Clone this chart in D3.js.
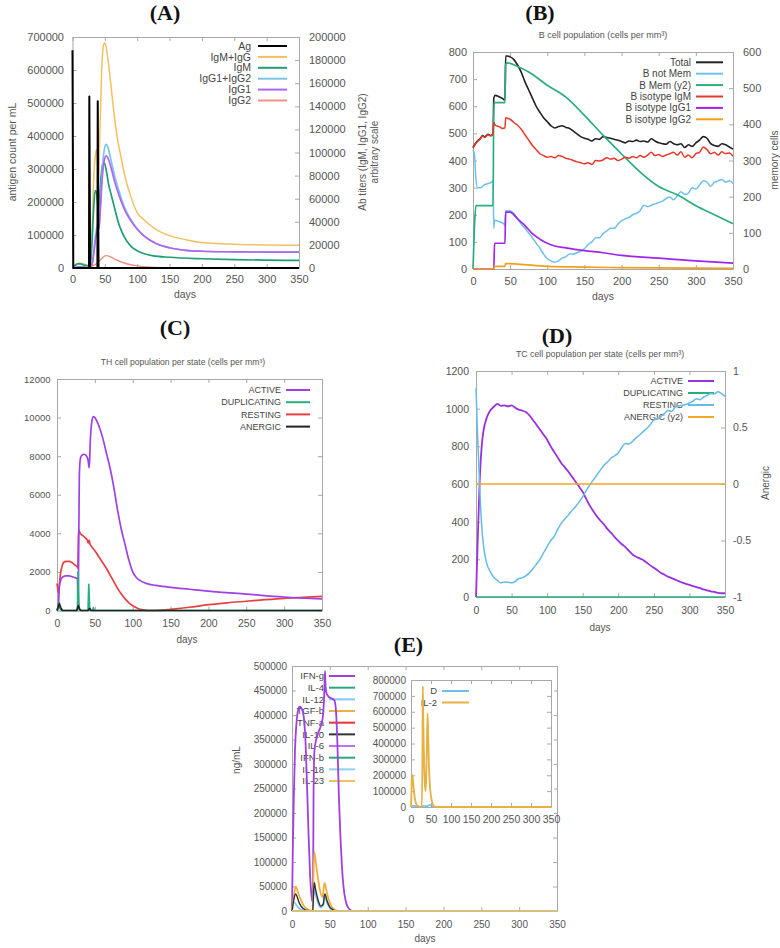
<!DOCTYPE html>
<html><head><meta charset="utf-8">
<script src="https://cdn.jsdelivr.net/npm/d3@7"></script>
<style>
body{margin:0;background:#fff;}
svg{display:block;}
</style></head><body>
<svg id="chart" width="780" height="948"></svg>
<script>
// ---------- shared ticks ----------
const dayTicks = [0,50,100,150,200,250,300,350];

// ---------- Panel A ----------
const aLeftTicks = [0,100000,200000,300000,400000,500000,600000,700000];
const aRightTicks = [0,20000,40000,60000,80000,100000,120000,140000,160000,180000,200000];
const aLabels = ["Ag","IgM+IgG","IgM","IgG1+IgG2","IgG1","IgG2"];
const aColors = ["#000000","#f2c063","#1f9e73","#7cc4ee","#b065f0","#f29080"];
const aAgDays = [0,1.2,25.5,26,27.2,38.5,39,40.2,350];
const aAgVals = [660000,0,0,520000,0,0,505000,0,0];
const aIgMIgGDays = [0,5,10,15,20,25,27,30,33,36,37.5,39,40.5,42,45,48,50,53,56,60,65,70,75,80,90,100,110,120,130,150,175,200,250,300,350];
const aIgMIgGVals = [0,2000,4300,4000,3000,1500,1000,30000,80000,100000,102500,90000,75000,110000,170000,193000,195000,188000,175000,155000,130000,110000,96000,82000,62000,48000,42000,37000,33000,28000,24500,22000,20500,19900,19600];
const aIgMDays = [0,3,8,12,18,25,27,30,33,35,37,39,41,43,46,48,50,53,56,60,65,70,75,80,90,100,110,125,150,200,250,300,350];
const aIgMVals = [0,2000,3500,3500,2500,1500,800,20000,55000,67000,66000,55000,50000,70000,88000,92000,90000,82000,72000,63000,52000,41000,33000,27000,19000,15000,12500,10500,9300,8000,7200,6800,6600];
const aIgGDays = [0,5,10,15,20,25,27,30,33,36,39,41,43,46,49,52,55,60,65,70,75,80,90,100,110,120,130,150,175,200,250,300,350];
const aIgG12Vals = [0,500,1200,1000,700,400,300,3000,15000,30000,37000,38000,55000,85000,102000,107000,104000,92000,80000,70000,61000,53000,42000,34000,28000,24000,21000,17500,15300,14500,14000,13800,13700];
const aIgG1Vals = [0,500,1000,800,600,300,200,2500,13000,27000,33000,35000,50000,78000,93000,97000,95000,86000,75000,66000,58000,51000,41000,33500,28000,24000,21000,17500,15300,14500,14000,13800,13700];
const aIgG2Days = [0,10,27,30,35,40,45,50,53,56,60,70,80,90,100,120,150,350];
const aIgG2Vals = [0,300,200,1500,3000,5000,8000,10500,10700,10300,9200,6500,4300,2800,1800,700,200,0];

// ---------- Panel B ----------
const bLeftTicks = [0,100,200,300,400,500,600,700,800];
const bRightTicks = [0,100,200,300,400,500,600];
const bLabels = ["Total","B not Mem","B Mem (y2)","B isotype IgM","B isotype IgG1","B isotype IgG2"];
const bColors = ["#222222","#6ec1ee","#2aae7e","#e8382a","#a024ee","#f0a020"];
const bDays = [0,3,6,10,13,16,20,24,27,28,30,35,40,43,44,46,50,
 55,60,65,70,75,80,85,90,95,100,105,110,115,120,125,130,135,140,145,150,
 155,160,165,170,175,180,185,190,195,200,205,210,215,220,225,230,235,240,245,250,
 255,260,265,270,275,280,285,290,295,300,305,310,315,320,325,330,335,340,345,350];
const bTotalVals = [448,462,472,482,492,487,497,492,502,630,640,635,628,622,785,785,782,
 772,752,725,690,660,630,600,578,558,543,528,520,525,528,522,518,508,498,488,482,
 478,472,480,478,488,485,482,478,475,470,465,472,470,475,470,472,468,480,472,465,
 462,460,470,462,458,462,448,458,452,465,475,488,482,462,455,452,462,458,450,442];
const bIgMVals = [445,460,470,480,490,485,495,490,500,540,530,525,518,520,558,556,552,
 540,530,515,495,475,455,440,425,418,412,415,410,418,415,408,405,400,395,392,388,
 392,385,400,398,402,410,405,408,400,405,412,408,415,410,418,412,420,430,418,422,
 415,420,425,430,420,432,412,420,410,425,430,450,440,425,430,420,432,425,428,415];
const bNotMemDays = [0,2,4,6,10,15,20,25,27,28,29,35,42,43,44,50,
 55,60,65,70,75,80,85,90,95,100,105,110,115,120,125,130,135,140,145,150,
 155,160,165,170,175,180,185,190,195,200,205,210,215,220,225,230,235,240,245,250,
 255,260,265,270,275,280,285,290,295,300,305,310,315,320,325,330,335,340,345,350];
const bNotMemVals = [440,420,330,300,300,310,315,320,325,150,180,175,165,160,215,215,
 205,185,165,150,132,115,95,77,55,38,30,25,30,40,45,55,55,60,65,75,
 90,100,115,115,130,140,150,150,165,178,185,190,200,205,215,235,230,235,240,245,
 250,260,265,255,270,285,275,280,300,295,310,325,320,305,320,325,330,320,325,315];
const bMemDays = [0,2,4,27,28,43,44,46,60,75,100,125,150,175,200,225,250,275,300,325,350];
const bMemVals = [0,120,175,175,460,460,565,570,560,545,508,475,425,370,318,268,228,205,175,150,125];
const bIgG1Days = [0,28,29,43,44,50,55,60,70,80,90,100,110,125,150,175,200,250,300,350];
const bIgG1Vals = [0,0,95,95,210,210,200,185,160,130,110,95,85,78,68,60,50,40,30,22];
const bIgG2Days = [0,28,29,43,44,60,100,150,200,350];
const bIgG2Vals = [0,0,10,10,20,18,10,7,5,2];

// ---------- Panel C ----------
const cTicks = [0,2000,4000,6000,8000,10000,12000];
const cLabels = ["ACTIVE","DUPLICATING","RESTING","ANERGIC"];
const cColors = ["#a040e8","#2aae7e","#e84040","#222222"];
const cActiveDays = [0,1,2,3,5,8,12,16,20,24,27,27.6,28.4,29.5,31,33,36,39,41,42,42.6,44,46,48,50,55,60,65,70,75,80,85,90,95,100,105,110,115,120,130,140,150,175,200,250,300,350];
const cActiveVals = [0,50,300,1200,1600,1750,1800,1790,1750,1700,1650,300,2000,7000,7900,8050,8100,8000,7800,7500,7400,8800,9800,10050,10000,9600,9000,8200,7400,6400,5200,4200,3400,2600,2000,1700,1550,1450,1380,1300,1250,1200,1100,1000,850,700,600];
const cDupDays = [0,2,3,4,6,27,28,29,30,41,42,43,44,47,48,49,350];
const cDupVals = [0,200,400,100,0,0,2000,300,0,0,1350,200,0,0,150,0,0];
const cRestDays = [0,1,2,3,5,7,9,12,16,20,24,27,27.6,28.4,30,35,40,41.5,42.5,43.5,45,50,55,60,65,70,75,80,85,90,95,100,105,110,115,120,130,140,150,175,200,225,250,275,300,325,350];
const cRestVals = [1400,1100,900,1300,2000,2350,2500,2550,2550,2480,2350,2250,2200,4200,4050,3850,3650,3500,3650,3450,3350,3100,2800,2500,2200,1850,1500,1150,850,600,400,250,140,60,20,0,0,20,60,170,300,400,480,560,630,680,730];
const cAnDays = [0,2,3,5,7,26,28,30,32,41,43,45,350];
const cAnVals = [0,250,350,150,0,0,250,50,0,0,100,0,0];

// ---------- Panel D ----------
const dTicks = [0,200,400,600,800,1000,1200];
const dRightTicks = [-1,-0.5,0,0.5,1];
const dLabels = ["ACTIVE","DUPLICATING","RESTING","ANERGIC (y2)"];
const dColors = ["#9a30e0","#2aae7e","#64bbea","#f5a623"];
const dDays = [0,2,5,8,10,15,20,25,
 30,35,40,45,50,55,60,65,70,75,80,85,90,95,100,105,110,115,120,125,
 130,135,140,145,150,155,160,165,170,175,180,185,190,195,200,205,210,215,220,225,
 230,235,240,245,250,255,260,265,270,275,280,285,290,295,300,305,310,315,320,325,
 330,335,340,345,350];
const dActiveVals = [0,250,600,800,870,950,990,1010,
 1025,1015,1018,1012,1018,1005,995,990,982,965,940,915,888,862,835,800,770,740,710,688,
 665,638,612,585,558,520,485,455,428,405,385,360,340,318,298,280,265,245,226,214,
 205,196,182,168,155,142,128,118,108,100,92,84,76,70,64,58,52,47,40,35,
 30,27,22,20,20];
const dRestVals = [1110,880,600,380,290,180,135,105,
 88,75,80,78,76,82,98,102,112,128,150,175,200,235,268,300,322,360,392,415,
 436,460,480,505,533,565,595,622,648,675,700,718,738,750,765,795,815,812,826,845,
 860,878,895,915,940,945,958,975,990,985,1008,1015,1018,1022,1030,1040,1052,1048,1062,1070,
 1080,1078,1090,1080,1065];
const dFlatDays = [0,350];
const dDupVals = [0,0];
const dAnergicVals = [0,0];

// ---------- Panel E ----------
const eTicks = [0,50000,100000,150000,200000,250000,300000,350000,400000,450000,500000];
const eLabels = ["IFN-g","IL-4","IL-12","TGF-b","TNF-a","IL-10","IL-6","IFN-b","IL-18","IL-23"];
const eColors = ["#a040e0","#2aa87a","#7ccbf0","#f0b040","#f03030","#333333","#c070f0","#2aa87a","#90d0f0","#f2c060"];
const eIFNgDays = [0,1,2.5,4,6,8,10,12,14,16,18,20,22,24,26,27,28,28.5,29.7,32,35,39,41,42.5,43.6,44.3,45.5,48,52,56,58,60,62,64,66,68,71,75,80,350];
const eIFNgVals = [0,120000,240000,330000,385000,410000,417000,415000,408000,390000,340000,250000,150000,70000,28000,20000,100000,247000,328000,350000,365000,383000,400000,440000,490000,460000,445000,438000,434000,430000,410000,340000,230000,150000,90000,50000,20000,5000,0,0];
const eTGFbDays = [0,2,4,5,6,8,11,15,20,25,27.5,28.5,29.5,31,34,37,40,41.5,42.5,43.5,45,48,52,56,60,65,350];
const eTGFbVals = [0,25000,45000,50000,47000,38000,25000,12000,4000,1000,1000,80000,120000,105000,70000,42000,28000,40000,55000,57000,45000,26000,10000,3000,800,0,0];
const eIL10Days = [0,2,4,5,7,10,15,20,27.5,28.5,29.5,31,34,38,41.5,42.5,43.5,46,50,55,60,350];
const eIL10Vals = [0,20000,33000,35000,28000,15000,5000,1000,0,40000,58000,45000,25000,10000,15000,30000,35000,22000,8000,2000,0,0];
const eIL12Days = [0,1,3,5,8,12,20,27.5,28.5,29.5,31,34,38,41.5,42.5,43.5,46,50,55,350];
const eIL12Vals = [0,12000,18000,14000,8000,3000,500,0,30000,45000,35000,18000,7000,12000,25000,30000,18000,6000,0,0];
const eFlatDays = [0,350];
const eFlatVals = [0,0];

// inset
const iTicks = [0,100000,200000,300000,400000,500000,600000,700000,800000];
const iLabels = ["D","IL-2"];
const iColors = ["#6ec1ee","#e8b040"];
const iDDays = [0,5,10,20,27,29,32,36,40,44,48,52,58,65,350];
const iDVals = [8000,7000,5000,3000,1500,5000,8000,5000,4000,10000,12000,6000,1000,0,0];
const iIL2Days = [0,1,2,3.5,5,7,10,14,20,27,28.5,29.5,31,33,35,37,39,41.5,43,45,48,52,56,60,65,350];
const iIL2Vals = [0,80000,170000,200000,170000,110000,50000,15000,3000,0,300000,760000,500000,250000,130000,100000,300000,590000,450000,250000,110000,40000,10000,2000,0,0];

// ---------- drawing ----------
const FONT = '"Liberation Sans", Arial, sans-serif';
const svg = d3.select("#chart");
svg.append("rect").attr("width",780).attr("height",948).attr("fill","#fff");
const fmt = d => String(d);

function panel(o){
  const g = svg.append("g");
  if (o.bg) g.append("rect").attr("x",o.bg[0]).attr("y",o.bg[1]).attr("width",o.bg[2]).attr("height",o.bg[3]).attr("fill","#fff");
  const x = d3.scaleLinear().domain([0,350]).range([o.left,o.right]);
  const y = d3.scaleLinear().domain(o.yDomain).range([o.bottom,o.top]);
  const y2 = o.y2Domain ? d3.scaleLinear().domain(o.y2Domain).range([o.bottom,o.top]) : null;
  const T = 4;
  const style = (sel, fs) => {
    sel.attr("font-family",FONT).attr("font-size",fs);
    sel.select(".domain").attr("stroke","#a8a8a8");
    sel.selectAll(".tick line").attr("stroke","#a8a8a8");
    sel.selectAll(".tick text").attr("fill","#555");
  };
  const bx = g.append("g").attr("transform",`translate(0,${o.bottom})`)
    .call(d3.axisBottom(x).tickValues(dayTicks).tickSize(-T).tickSizeOuter(0).tickFormat(fmt));
  bx.selectAll(".tick text").attr("y",o.xOff).attr("dy","0.35em");
  style(bx, o.xfs || o.fs);
  const tx = g.append("g").attr("transform",`translate(0,${o.top})`)
    .call(d3.axisTop(x).tickValues(dayTicks).tickSize(-T).tickSizeOuter(0).tickFormat(()=>""));
  style(tx, o.fs);
  const ly = g.append("g").attr("transform",`translate(${o.left},0)`)
    .call(d3.axisLeft(y).tickValues(o.yTicks).tickSize(-T).tickSizeOuter(0).tickFormat(fmt));
  ly.selectAll(".tick text").attr("x",-o.yOff);
  style(ly, o.fs);
  const ry = g.append("g").attr("transform",`translate(${o.right},0)`);
  if (y2){
    ry.call(d3.axisRight(y2).tickValues(o.y2Ticks).tickSize(-T).tickSizeOuter(0).tickFormat(fmt));
    ry.selectAll(".tick text").attr("x",o.y2Off);
  } else {
    ry.call(d3.axisRight(y).tickValues(o.yTicks).tickSize(-T).tickSizeOuter(0).tickFormat(()=>""));
  }
  style(ry, o.fs);
  // legend (drawn before curves, like the original)
  const L = o.legend;
  L.labels.forEach((t,i)=>{
    const yy = L.y + i*L.dy;
    g.append("text").attr("x",L.tx).attr("y",yy).attr("dy","0.35em").attr("text-anchor","end")
      .attr("font-family",FONT).attr("font-size",L.fs).attr("fill","#444").text(t);
    g.append("line").attr("x1",L.x1).attr("x2",L.x2).attr("y1",yy).attr("y2",yy)
      .attr("stroke",L.colors[i]).attr("stroke-width",2);
  });
  o.series.forEach(s=>{
    const sy = s.y2 ? y2 : y;
    const line = d3.line().x(d=>x(d[0])).y(d=>sy(d[1])).curve(s.linear ? d3.curveLinear : d3.curveMonotoneX);
    g.append("path").datum(d3.zip(s.days,s.vals)).attr("d",line).attr("fill","none")
      .attr("stroke",s.color).attr("stroke-width",s.w||1.7).attr("stroke-linejoin","round");
  });
  return g;
}

function label(txt,x,y,fs,opt){
  opt = opt||{};
  const t = svg.append("text").attr("x",x).attr("y",y).attr("text-anchor","middle")
    .attr("font-family",opt.serif ? '"Liberation Serif","Times New Roman",serif' : FONT)
    .attr("font-size",fs).attr("fill",opt.fill||"#555").attr("font-weight",opt.bold?"bold":"normal");
  if (opt.rot) t.attr("transform",`rotate(-90,${x},${y})`).attr("dy","0.35em");
  t.text(txt);
  return t;
}

// Panel A
panel({left:72.5,right:299,top:37,bottom:268,yDomain:[0,700000],y2Domain:[0,200000],
  yTicks:aLeftTicks,y2Ticks:aRightTicks,fs:11,xOff:11.5,yOff:8.5,y2Off:10,
  legend:{labels:aLabels,colors:aColors,tx:251,x1:258,x2:287,y:46,dy:10.9,fs:10.5},
  series:[
    {days:aIgMIgGDays,vals:aIgMIgGVals,color:aColors[1],y2:true,w:1.5},
    {days:aIgMDays,vals:aIgMVals,color:aColors[2],y2:true},
    {days:aIgGDays,vals:aIgG12Vals,color:aColors[3],y2:true},
    {days:aIgGDays,vals:aIgG1Vals,color:aColors[4],y2:true},
    {days:aIgG2Days,vals:aIgG2Vals,color:aColors[5],y2:true,w:1.4},
    {days:aAgDays,vals:aAgVals,color:aColors[0],linear:true,w:2}
  ]});
label("(A)",165,20,22,{serif:true,bold:true,fill:"#111"});
label("days",185,298,10.5);
label("antigen count per mL",12,152,10.5,{rot:true});
label("Ab titers (IgM, IgG1, IgG2)",362,152,10,{rot:true});
label("arbitrary scale",374,152,10,{rot:true});

// Panel B (drawn in legend order: later series on top)
panel({left:473,right:733,top:52,bottom:269,yDomain:[0,800],y2Domain:[0,600],
  yTicks:bLeftTicks,y2Ticks:bRightTicks,fs:11,xOff:12,yOff:6,y2Off:10,
  legend:{labels:bLabels,colors:bColors,tx:691,x1:696,x2:723,y:62.3,dy:11.4,fs:10},
  series:[
    {days:bDays,vals:bTotalVals,color:bColors[0],w:1.6},
    {days:bNotMemDays,vals:bNotMemVals,color:bColors[1],w:1.5},
    {days:bMemDays,vals:bMemVals,color:bColors[2],y2:true},
    {days:bDays,vals:bIgMVals,color:bColors[3],w:1.5},
    {days:bIgG1Days,vals:bIgG1Vals,color:bColors[4]},
    {days:bIgG2Days,vals:bIgG2Vals,color:bColors[5]}
  ]});
label("(B)",540,20,22,{serif:true,bold:true,fill:"#111"});
label("B cell population (cells per mm\u00B3)",603,37.5,9);
label("days",603,300,10.5);
label("memory cells",774,160,10,{rot:true});

// Panel C
panel({left:57,right:322,top:379,bottom:610.5,yDomain:[0,12000],
  yTicks:cTicks,fs:9.5,xfs:10.5,xOff:12.8,yOff:6.5,
  legend:{labels:cLabels,colors:cColors,tx:281,x1:286,x2:310,y:390,dy:12.2,fs:9},
  series:[
    {days:cRestDays,vals:cRestVals,color:cColors[2]},
    {days:cActiveDays,vals:cActiveVals,color:cColors[0]},
    {days:cDupDays,vals:cDupVals,color:cColors[1],linear:true},
    {days:cAnDays,vals:cAnVals,color:cColors[3],linear:true}
  ]});
label("(C)",175,335,22,{serif:true,bold:true,fill:"#111"});
label("TH cell population per state (cells per mm\u00B3)",183,365,8.6);
label("days",187,643,10);

// Panel D
panel({left:476,right:725,top:371,bottom:597,yDomain:[0,1200],y2Domain:[-1,1],
  yTicks:dTicks,y2Ticks:dRightTicks,fs:10.5,xOff:13,yOff:7,y2Off:8,
  legend:{labels:dLabels,colors:dColors,tx:683,x1:688,x2:714,y:381,dy:12,fs:9},
  series:[
    {days:dDays,vals:dActiveVals,color:dColors[0],w:1.8},
    {days:dFlatDays,vals:dDupVals,color:dColors[1],linear:true},
    {days:dDays,vals:dRestVals,color:dColors[2],w:1.5},
    {days:dFlatDays,vals:dAnergicVals,color:dColors[3],y2:true,linear:true}
  ]});
label("(D)",557,343,22,{serif:true,bold:true,fill:"#111"});
label("TC cell population per state (cells per mm\u00B3)",600,356.5,8.8);
label("days",600,631,10);
label("Anergic",765,483,10,{rot:true});

// Panel E
panel({left:292,right:557,top:666,bottom:911,yDomain:[0,500000],
  yTicks:eTicks,fs:10,xOff:13,yOff:5,
  legend:{labels:eLabels,colors:eColors,tx:324,x1:329,x2:355,y:676,dy:11.67,fs:9.5},
  series:[
    {days:eIFNgDays,vals:eIFNgVals,color:eColors[0],w:1.8},
    {days:eFlatDays,vals:eFlatVals,color:eColors[1],linear:true},
    {days:eIL12Days,vals:eIL12Vals,color:eColors[2]},
    {days:eTGFbDays,vals:eTGFbVals,color:eColors[3],w:1.8},
    {days:eFlatDays,vals:eFlatVals,color:eColors[4],linear:true},
    {days:eIL10Days,vals:eIL10Vals,color:eColors[5],w:1.4},
    {days:eFlatDays,vals:eFlatVals,color:eColors[6],linear:true},
    {days:eFlatDays,vals:eFlatVals,color:eColors[7],linear:true},
    {days:eFlatDays,vals:eFlatVals,color:eColors[8],linear:true},
    {days:eFlatDays,vals:eFlatVals,color:eColors[9],linear:true}
  ]});
label("(E)",408.5,652,22,{serif:true,bold:true,fill:"#111"});
label("days",425,942,10);
label("ng/mL",236,760,10,{rot:true});

// Inset
panel({left:411,right:551,top:680,bottom:807,yDomain:[0,800000],
  yTicks:iTicks,fs:10,xfs:10.5,xOff:12.5,yOff:5,bg:[360,674,194,155],
  legend:{labels:iLabels,colors:iColors,tx:437,x1:442,x2:469,y:691,dy:11.5,fs:9.5},
  series:[
    {days:iDDays,vals:iDVals,color:iColors[0]},
    {days:iIL2Days,vals:iIL2Vals,color:iColors[1],w:1.8}
  ]});
</script>
</body></html>
